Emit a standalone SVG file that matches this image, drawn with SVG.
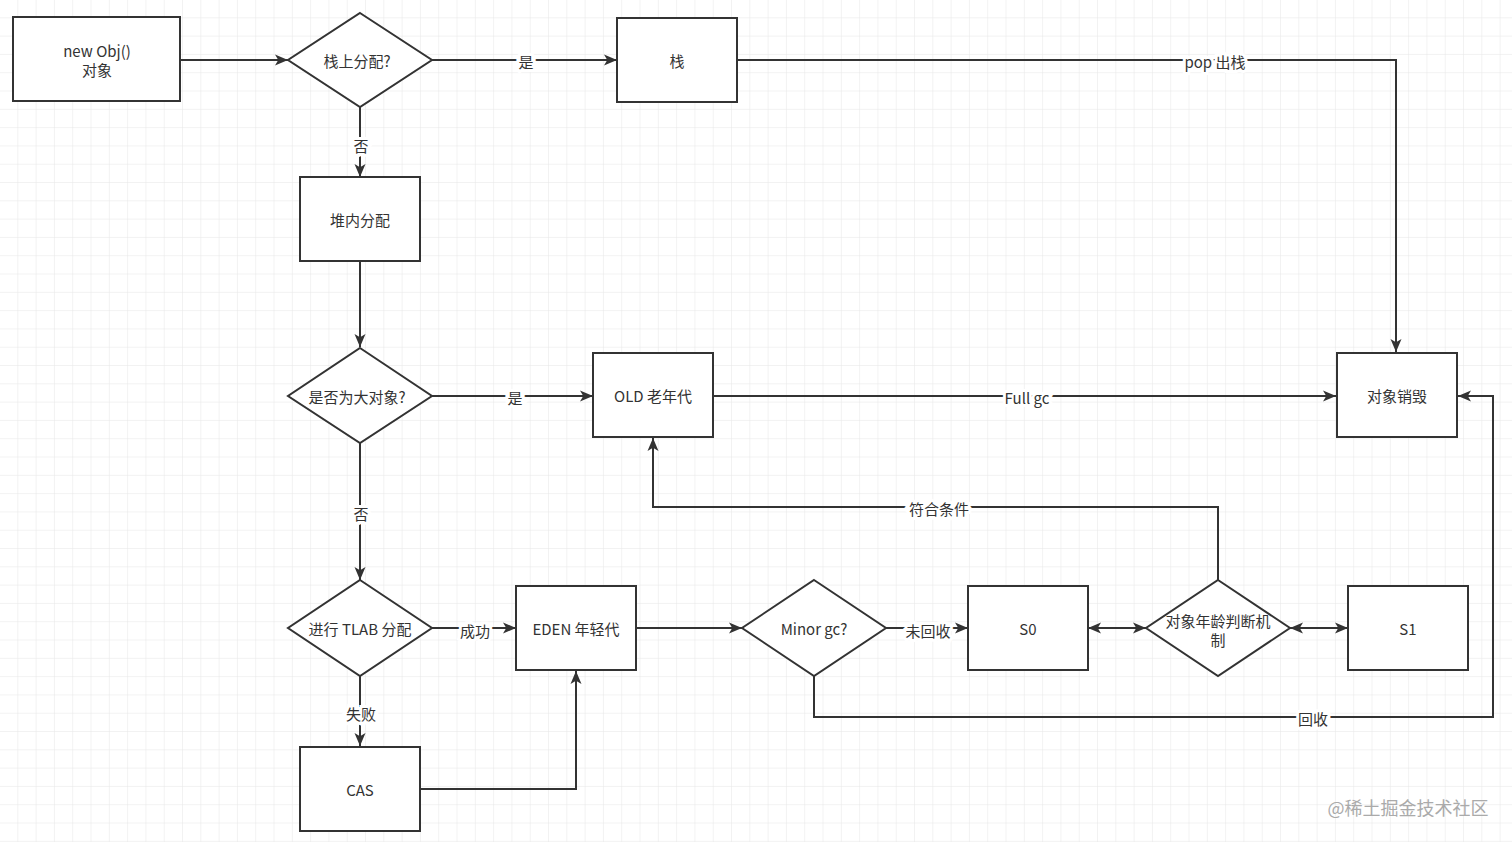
<svg xmlns="http://www.w3.org/2000/svg" width="1512" height="842" viewBox="0 0 1512 842">
<defs>
<pattern id="grid" width="18.3" height="18.3" patternUnits="userSpaceOnUse">
<path d="M18.3 0V18.3H0" fill="none" stroke="#e6e6e6" stroke-width="1"/>
</pattern>
<marker id="a" viewBox="0 0 10 10" refX="10" refY="5" markerWidth="13" markerHeight="11" markerUnits="userSpaceOnUse" orient="auto-start-reverse" preserveAspectRatio="none" style="overflow:visible">
<path d="M0 0L10 5L0 10L2.5 5Z" fill="#333"/>
</marker>
<style>
.n{fill:#fff;stroke:#333;stroke-width:2}
.c{fill:none;stroke:#333;stroke-width:2;marker-end:url(#a)}
.d{marker-start:url(#a)}
text{font-family:"Noto Sans CJK SC","Liberation Sans",sans-serif;font-size:15px;fill:#333;text-anchor:middle;dominant-baseline:central}
.l{paint-order:stroke;stroke:#fff;stroke-width:6px}
</style>
</defs>
<rect width="1512" height="842" fill="#fff"/>
<rect width="1512" height="842" fill="url(#grid)"/>
<g id="connectors">
<path class="c" d="M180 60H288"/>
<path class="c" d="M432 60H617"/>
<path class="c" d="M737 60H1396V352"/>
<path class="c" d="M360 107V177"/>
<path class="c" d="M360 261V347"/>
<path class="c" d="M432 396H593"/>
<path class="c" d="M713 396H1336"/>
<path class="c" d="M360 443V580"/>
<path class="c" d="M432 628H516"/>
<path class="c" d="M360 676V746"/>
<path class="c" d="M420 789H576V671"/>
<path class="c" d="M636 628H742"/>
<path class="c" d="M886 628H968"/>
<path class="c d" d="M1088 628H1146"/>
<path class="c d" d="M1290 628H1348"/>
<path class="c" d="M1218 580V507H653V438"/>
<path class="c" d="M814 676V717H1493V396H1458"/>
<text class="l" x="526" y="61">是</text>
<text class="l" x="1215" y="61">pop 出栈</text>
<text class="l" x="361" y="145">否</text>
<text class="l" x="515" y="397">是</text>
<text class="l" x="1027" y="397">Full gc</text>
<text class="l" x="361" y="513">否</text>
<text class="l" x="475" y="630">成功</text>
<text class="l" x="361" y="713">失败</text>
<text class="l" x="928" y="630">未回收</text>
<text class="l" x="939" y="508">符合条件</text>
<text class="l" x="1313" y="718">回收</text>
</g>
<g id="newobj"><rect class="n" x="13" y="17" width="167" height="84"/><text x="97" y="50">new Obj()</text><text x="97" y="69">对象</text></g>
<g id="stackq"><path class="n" d="M360 13L432 60L360 107L288 60Z"/><text x="357" y="60">栈上分配?</text></g>
<g id="stack"><rect class="n" x="617" y="18" width="120" height="84"/><text x="677" y="60">栈</text></g>
<g id="heap"><rect class="n" x="300" y="177" width="120" height="84"/><text x="360" y="219">堆内分配</text></g>
<g id="bigq"><path class="n" d="M360 348L432 396L360 443L288 396Z"/><text x="357" y="396">是否为大对象?</text></g>
<g id="old"><rect class="n" x="593" y="353" width="120" height="84"/><text x="653" y="395">OLD 老年代</text></g>
<g id="destroy"><rect class="n" x="1337" y="353" width="120" height="84"/><text x="1397" y="395">对象销毁</text></g>
<g id="tlab"><path class="n" d="M360 580L432 628L360 676L288 628Z"/><text x="360" y="628">进行 TLAB 分配</text></g>
<g id="eden"><rect class="n" x="516" y="586" width="120" height="84"/><text x="576" y="628">EDEN 年轻代</text></g>
<g id="cas"><rect class="n" x="300" y="747" width="120" height="84"/><text x="360" y="789">CAS</text></g>
<g id="minor"><path class="n" d="M814 580L886 628L814 676L742 628Z"/><text x="814" y="628">Minor gc?</text></g>
<g id="s0"><rect class="n" x="968" y="586" width="120" height="84"/><text x="1028" y="628">S0</text></g>
<g id="age"><path class="n" d="M1218 580L1290 628L1218 676L1146 628Z"/><text x="1218" y="620">对象年龄判断机</text><text x="1218" y="639">制</text></g>
<g id="s1"><rect class="n" x="1348" y="586" width="120" height="84"/><text x="1408" y="628">S1</text></g>
<text x="1408" y="807" style="font-size:18px;fill:#aaa">@稀土掘金技术社区</text>
</svg>
